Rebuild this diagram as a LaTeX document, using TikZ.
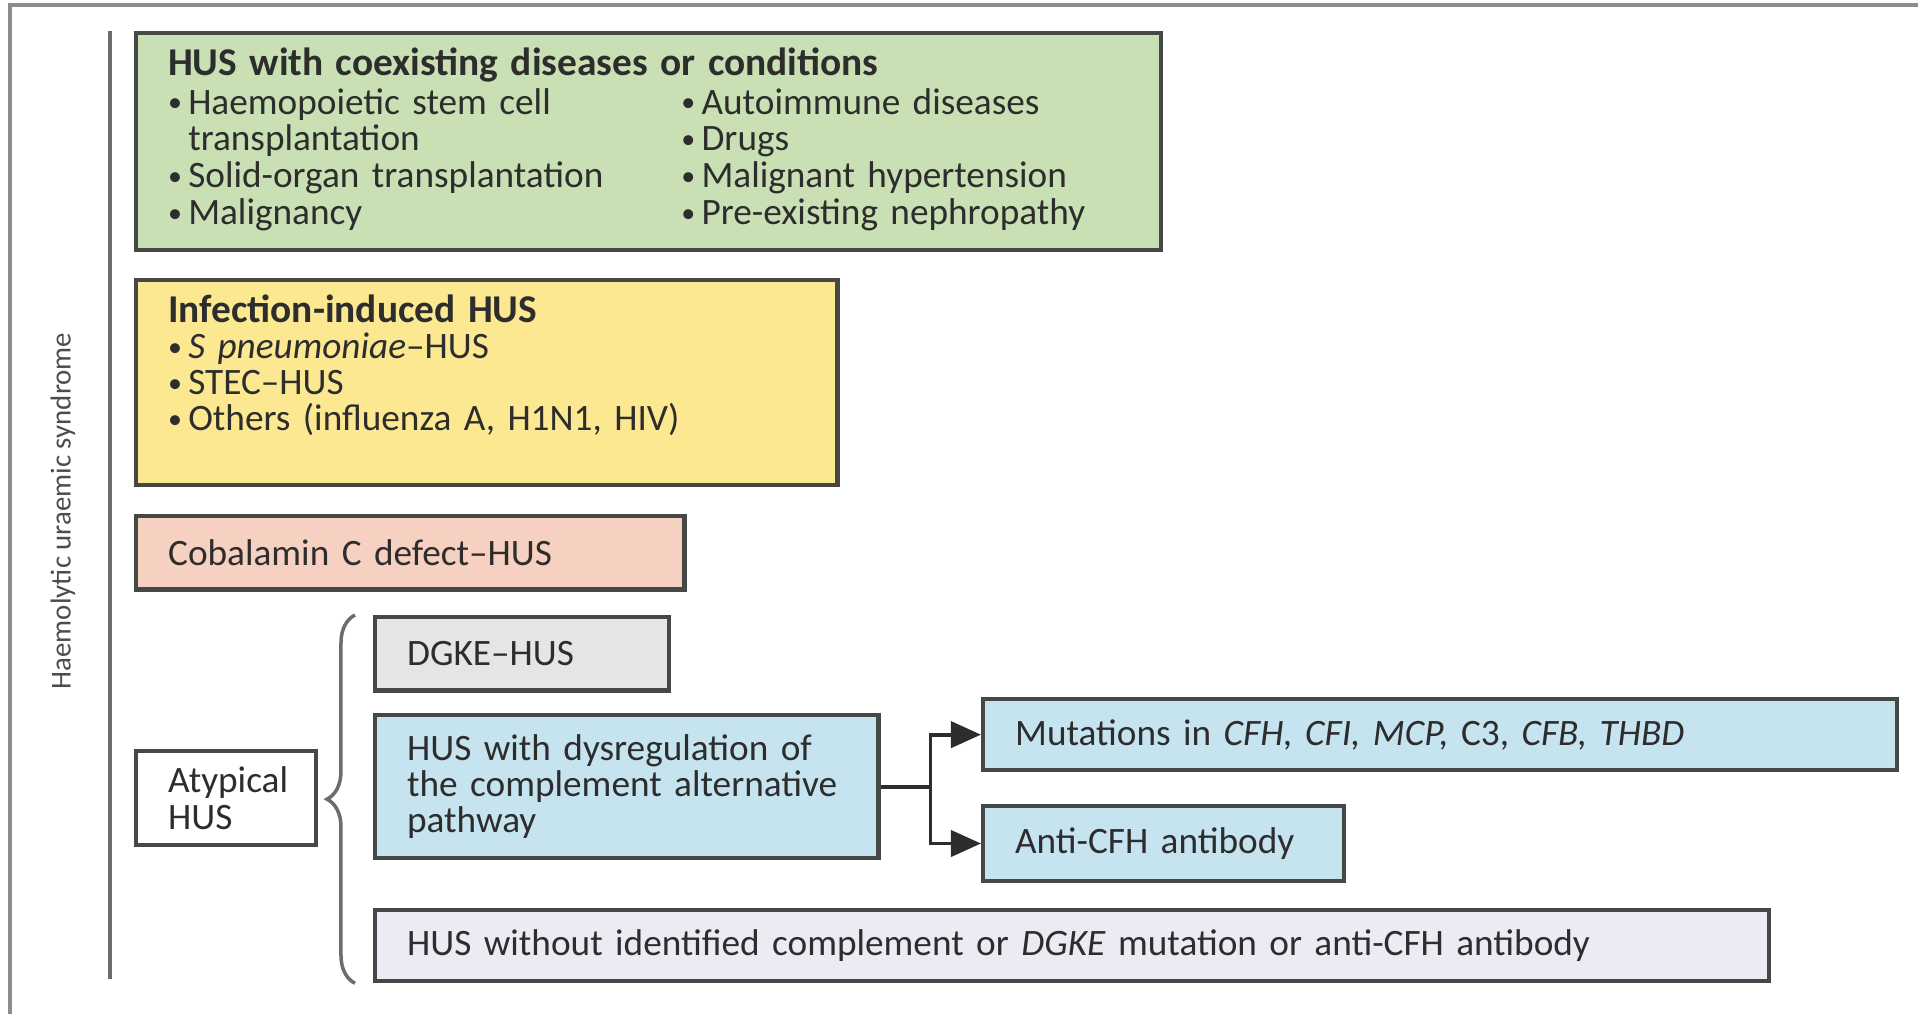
\documentclass[tikz,border=0pt]{standalone}
\usepackage{fontspec}
\setmainfont{Carlito}
\usetikzlibrary{positioning,calc,arrows.meta,decorations.pathreplacing}

\definecolor{coexgreen}{RGB}{200,224,180}
\definecolor{infyellow}{RGB}{251,232,144}
\definecolor{cobpink}{RGB}{246,208,192}
\definecolor{dgkegray}{RGB}{229,229,229}
\definecolor{compblue}{RGB}{198,228,240}
\definecolor{nolav}{RGB}{237,234,244}
\definecolor{boxline}{RGB}{70,72,70}
\definecolor{txtgray}{RGB}{45,45,45}
\definecolor{framegray}{RGB}{135,145,135}

\newcommand{\bul}{\raisebox{0.12ex}{\scalebox{0.75}{•}}\,}
\newcommand{\boxtitle}[1]{{\fontsize{11.2}{10.3}\selectfont\bfseries #1}}

\begin{document}
\begin{tikzpicture}[x=0.01cm,y=-0.01cm,
    cbox/.style={draw=boxline, line width=1.2pt, anchor=north west, inner xsep=0.32cm,
        inner ysep=0pt, align=left, text=txtgray, font=\fontsize{10.6}{10.3}\selectfont},
    conn/.style={draw=txtgray, line width=1.1pt},
    axisline/.style={draw=gray!85!black, line width=1.1pt}]
    \useasboundingbox (0,0) rectangle (1918,1014);

    % outer frame
    \draw[framegray, line width=1.4pt] (10,1014) -- (10,5) -- (1918,5);

    % side label
    \draw[axisline] (110,31) -- (110,979);
    \node[rotate=90, text=txtgray!85, font=\fontsize{8.2}{10}\selectfont] (hus) at (63,511) {Haemolytic uraemic syndrome};

    % HUS with coexisting conditions
    \node[cbox, fill=coexgreen, text width=9.6cm, minimum height=2.17cm] (coex) at (134,31) {%
        \boxtitle{HUS with coexisting diseases or conditions}\\[0.6pt]
        \begin{tabular}{@{}p{5.13cm}@{}l@{}}
        \bul Haemopoietic stem cell & \bul Autoimmune diseases\\
        \phantom{\bul}transplantation & \bul Drugs\\
        \bul Solid-organ transplantation & \bul Malignant hypertension\\
        \bul Malignancy & \bul Pre-existing nephropathy
        \end{tabular}};

    % Infection-induced HUS
    \node[cbox, fill=infyellow, text width=6.37cm, text height=0.42cm, text depth=1.63cm] (infect) at (134,278) {%
        \boxtitle{Infection-induced HUS}\\
        \bul\textit{S pneumoniae}–HUS\\
        \bul STEC–HUS\\
        \bul Others (influenza A, H1N1, HIV)};

    \node[cbox, fill=cobpink, text width=4.84cm, minimum height=0.734cm] (cobal) at (134,514) {Cobalamin C defect–HUS};

    % atypical HUS
    \node[cbox, fill=white, text width=1.16cm, minimum height=0.942cm] (atyp) at (134,749) {Atypical\\HUS};
    \node[cbox, fill=dgkegray, text width=2.3cm, minimum height=0.734cm] (dgke) at (373,615) {DGKE–HUS};
    \node[cbox, fill=compblue, text width=4.39cm, minimum height=1.43cm] (dysreg) at (373,713) {%
        HUS with dysregulation of\\the complement alternative\\pathway};
    \node[cbox, fill=compblue, text width=8.49cm, minimum height=0.71cm] (mutat) at (981,697) {%
        Mutations in \textit{CFH, CFI, MCP,} C3, \textit{CFB, THBD}};
    \node[cbox, fill=compblue, text width=2.97cm, minimum height=0.747cm] (antib) at (981,804) {Anti-CFH antibody};
    \node[cbox, fill=nolav, text width=13.29cm, minimum height=0.71cm] (nocomp) at (373,908) {%
        HUS without identified complement or \textit{DGKE} mutation or anti-CFH antibody};

    % brace and split arrows
    \coordinate (bracetop) at ([xshift=-0.18cm]dgke.north west);
    \coordinate (bracebot) at ([xshift=-0.18cm]nocomp.south west);
    \draw[axisline, line width=1pt, decorate, decoration={brace, amplitude=0.28cm}] (bracebot) -- (bracetop);

    \draw[conn] (dysreg.east) -- ++(0.5cm,0) coordinate (split);
    \draw[conn, -{Triangle[length=0.3cm, width=0.26cm]}] (split) |- (mutat.west);
    \draw[conn, -{Triangle[length=0.3cm, width=0.26cm]}] (split) |- (antib.west);
\end{tikzpicture}
\end{document}
